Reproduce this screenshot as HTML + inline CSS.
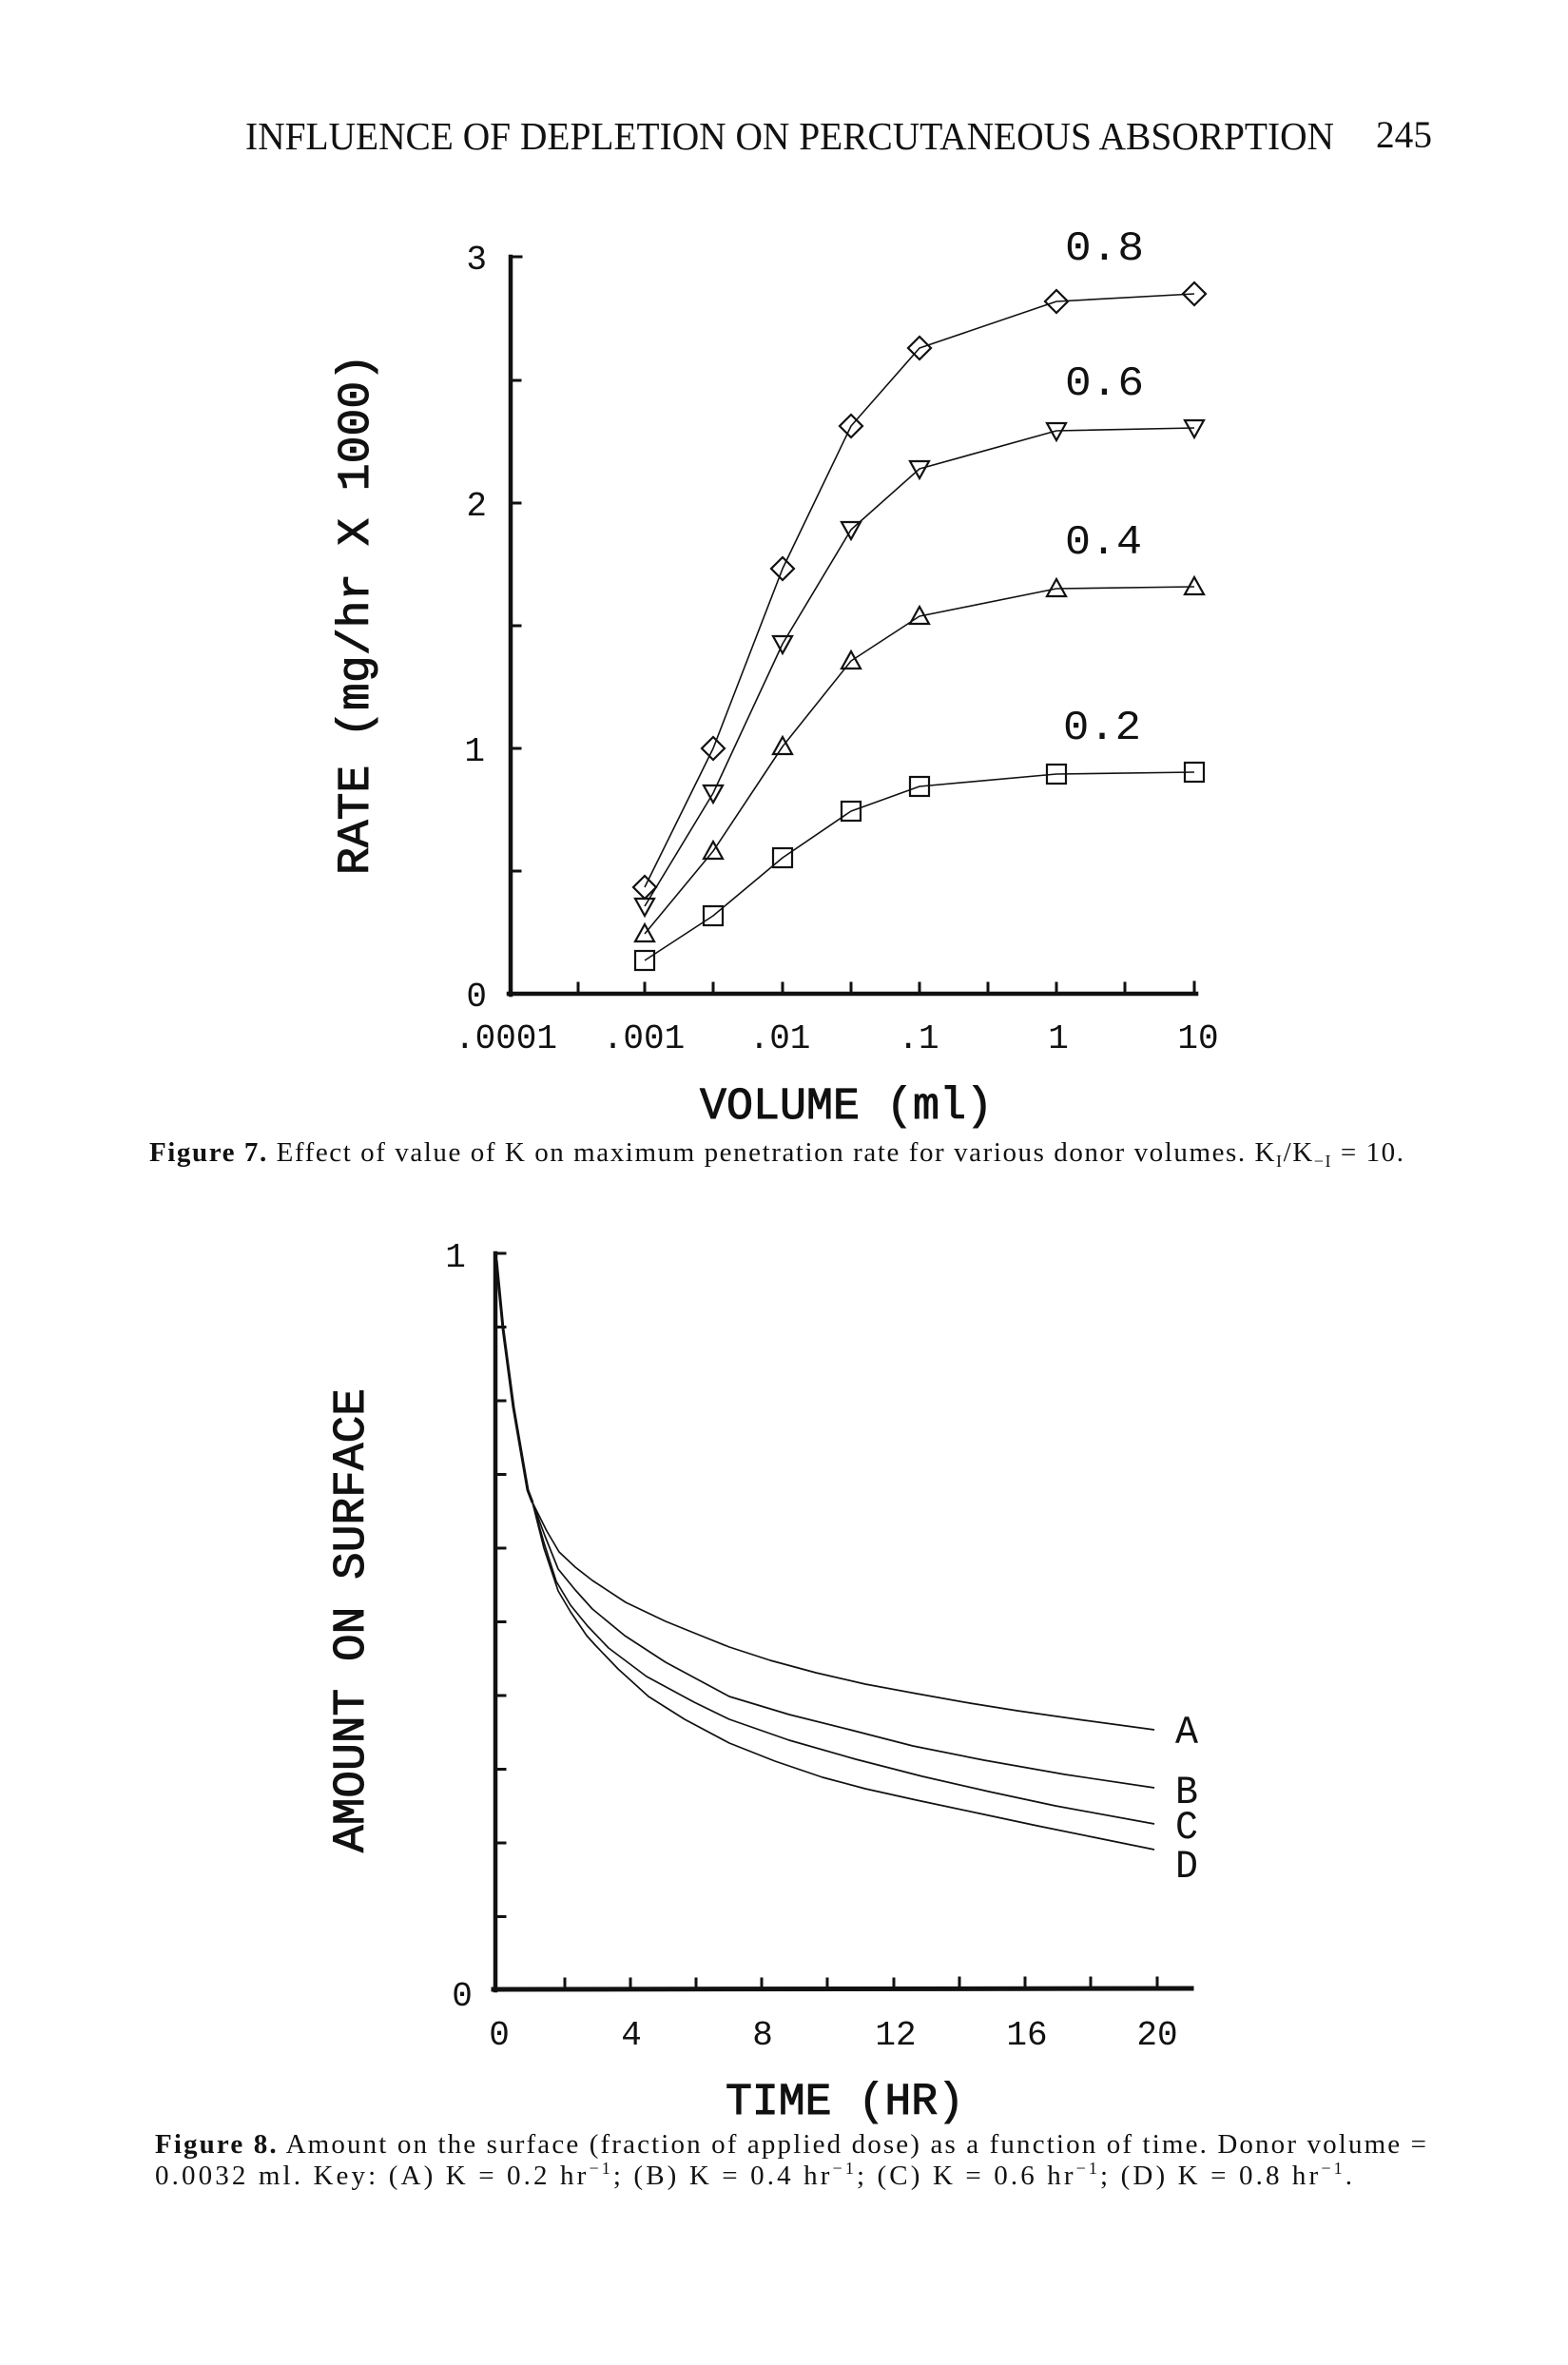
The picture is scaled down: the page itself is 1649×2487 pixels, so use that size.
<!DOCTYPE html>
<html>
<head>
<meta charset="utf-8">
<style>
  html,body{margin:0;padding:0;background:#fff;}
  svg{display:block;}
  .m{font-family:"Liberation Mono","DejaVu Sans Mono",monospace;fill:#111;}
  .s{font-family:"Liberation Serif","DejaVu Serif",serif;fill:#111;}
</style>
</head>
<body>
<svg width="1649" height="2487" viewBox="0 0 1649 2487" xmlns="http://www.w3.org/2000/svg">
  <rect x="0" y="0" width="1649" height="2487" fill="#fff"/>

  <!-- Header -->
  <text class="s" x="258" y="157" font-size="41" textLength="1145" lengthAdjust="spacingAndGlyphs">INFLUENCE OF DEPLETION ON PERCUTANEOUS ABSORPTION</text>
  <text class="s" x="1447" y="155" font-size="40" textLength="59" lengthAdjust="spacingAndGlyphs">245</text>

  <!-- ================= FIGURE 7 ================= -->
  <g stroke="#111" fill="none" stroke-linecap="square">
    <line x1="537" y1="270" x2="537" y2="1046" stroke-width="4.5"/>
    <line x1="535" y1="1045" x2="1258" y2="1045" stroke-width="4.5"/>
    <g stroke-width="3">
      <line x1="537" y1="270" x2="548" y2="270"/>
      <line x1="537" y1="400" x2="547" y2="400"/>
      <line x1="537" y1="529" x2="547" y2="529"/>
      <line x1="537" y1="658" x2="547" y2="658"/>
      <line x1="537" y1="787" x2="547" y2="787"/>
      <line x1="537" y1="916" x2="547" y2="916"/>
      <line x1="608" y1="1045" x2="608" y2="1034"/>
      <line x1="678" y1="1045" x2="678" y2="1034"/>
      <line x1="750" y1="1045" x2="750" y2="1034"/>
      <line x1="823" y1="1045" x2="823" y2="1034"/>
      <line x1="895" y1="1045" x2="895" y2="1034"/>
      <line x1="967" y1="1045" x2="967" y2="1034"/>
      <line x1="1039" y1="1045" x2="1039" y2="1034"/>
      <line x1="1111" y1="1045" x2="1111" y2="1034"/>
      <line x1="1183" y1="1045" x2="1183" y2="1034"/>
      <line x1="1256" y1="1045" x2="1256" y2="1033"/>
    </g>
  </g>

  <!-- y tick labels -->
  <g class="m" font-size="36" text-anchor="end">
    <text x="512" y="283">3</text>
    <text x="512" y="542">2</text>
    <text x="510" y="800">1</text>
    <text x="512" y="1058">0</text>
  </g>
  <!-- x tick labels -->
  <g class="m" font-size="36" text-anchor="middle">
    <text x="532" y="1102">.0001</text>
    <text x="677" y="1102">.001</text>
    <text x="820" y="1102">.01</text>
    <text x="966" y="1102">.1</text>
    <text x="1113" y="1102">1</text>
    <text x="1260" y="1102">10</text>
  </g>

  <!-- series lines -->
  <g stroke="#111" fill="none" stroke-width="1.6" stroke-linejoin="round">
    <polyline points="678,933 750,787 823,598 895,448 967,366 1111,317 1256,309"/>
    <polyline points="678,953 750,834 823,677 895,557 967,493 1111,453 1256,450"/>
    <polyline points="678,982 750,895 823,785 895,695 967,648 1111,619 1256,617"/>
    <polyline points="678,1010 750,963 823,902 895,853 967,827 1111,814 1256,812"/>
  </g>
  <!-- markers -->
  <g stroke="#111" fill="none" stroke-width="2.2" stroke-linejoin="miter">
    <path d="M678 921 L690 933 L678 945 L666 933Z"/>
    <path d="M750 775 L762 787 L750 799 L738 787Z"/>
    <path d="M823 586 L835 598 L823 610 L811 598Z"/>
    <path d="M895 436 L907 448 L895 460 L883 448Z"/>
    <path d="M967 354 L979 366 L967 378 L955 366Z"/>
    <path d="M1111 305 L1123 317 L1111 329 L1099 317Z"/>
    <path d="M1256 297 L1268 309 L1256 321 L1244 309Z"/>

    <path d="M668 945 L688 945 L678 963Z"/>
    <path d="M740 826 L760 826 L750 844Z"/>
    <path d="M813 669 L833 669 L823 687Z"/>
    <path d="M885 549 L905 549 L895 567Z"/>
    <path d="M957 485 L977 485 L967 503Z"/>
    <path d="M1101 445 L1121 445 L1111 463Z"/>
    <path d="M1246 442 L1266 442 L1256 460Z"/>

    <path d="M668 990 L688 990 L678 972Z"/>
    <path d="M740 903 L760 903 L750 885Z"/>
    <path d="M813 793 L833 793 L823 775Z"/>
    <path d="M885 703 L905 703 L895 685Z"/>
    <path d="M957 656 L977 656 L967 638Z"/>
    <path d="M1101 627 L1121 627 L1111 609Z"/>
    <path d="M1246 625 L1266 625 L1256 607Z"/>

    <rect x="668" y="1000" width="20" height="20"/>
    <rect x="740" y="953" width="20" height="20"/>
    <rect x="813" y="892" width="20" height="20"/>
    <rect x="885" y="843" width="20" height="20"/>
    <rect x="957" y="817" width="20" height="20"/>
    <rect x="1101" y="804" width="20" height="20"/>
    <rect x="1246" y="802" width="20" height="20"/>
  </g>

  <!-- series labels -->
  <g class="m" font-size="44">
    <text x="1120" y="273" textLength="83" lengthAdjust="spacingAndGlyphs">0.8</text>
    <text x="1120" y="415" textLength="83" lengthAdjust="spacingAndGlyphs">0.6</text>
    <text x="1120" y="582" textLength="81" lengthAdjust="spacingAndGlyphs">0.4</text>
    <text x="1118" y="777" textLength="82" lengthAdjust="spacingAndGlyphs">0.2</text>
  </g>

  <!-- axis titles -->
  <text class="m" x="736" y="1176" font-size="47" stroke="#111" stroke-width="1" textLength="308" lengthAdjust="spacingAndGlyphs">VOLUME (ml)</text>
  <text class="m" transform="translate(387,920) rotate(-90)" x="0" y="0" font-size="47" stroke="#111" stroke-width="1" textLength="548" lengthAdjust="spacingAndGlyphs">RATE (mg/hr X 1000)</text>

  <!-- caption 7 -->
  <text class="s" x="157" y="1221" font-size="29" textLength="1319" lengthAdjust="spacing"><tspan font-weight="bold">Figure 7.</tspan> Effect of value of K on maximum penetration rate for various donor volumes. K<tspan dy="6" font-size="18">I</tspan><tspan dy="-6">/K</tspan><tspan dy="6" font-size="18">−I</tspan><tspan dy="-6"> = 10.</tspan></text>

  <!-- ================= FIGURE 8 ================= -->
  <g stroke="#111" fill="none" stroke-linecap="square">
    <line x1="521" y1="1318" x2="521" y2="2093" stroke-width="4.5"/>
    <line x1="519" y1="2092" x2="1253" y2="2091" stroke-width="5"/>
    <g stroke-width="3">
      <line x1="521" y1="1318" x2="531" y2="1318"/>
      <line x1="521" y1="1395.5" x2="531" y2="1395.5"/>
      <line x1="521" y1="1473" x2="531" y2="1473"/>
      <line x1="521" y1="1550.5" x2="531" y2="1550.5"/>
      <line x1="521" y1="1628" x2="531" y2="1628"/>
      <line x1="521" y1="1705.5" x2="531" y2="1705.5"/>
      <line x1="521" y1="1783" x2="531" y2="1783"/>
      <line x1="521" y1="1860.5" x2="531" y2="1860.5"/>
      <line x1="521" y1="1938" x2="531" y2="1938"/>
      <line x1="521" y1="2015.5" x2="531" y2="2015.5"/>
      <line x1="594" y1="2092" x2="594" y2="2081"/>
      <line x1="663" y1="2092" x2="663" y2="2081"/>
      <line x1="732" y1="2092" x2="732" y2="2081"/>
      <line x1="801" y1="2092" x2="801" y2="2081"/>
      <line x1="870" y1="2092" x2="870" y2="2081"/>
      <line x1="940" y1="2092" x2="940" y2="2081"/>
      <line x1="1009" y1="2091" x2="1009" y2="2080"/>
      <line x1="1078" y1="2091" x2="1078" y2="2080"/>
      <line x1="1147" y1="2091" x2="1147" y2="2080"/>
      <line x1="1217" y1="2091" x2="1217" y2="2080"/>
    </g>
  </g>

  <!-- curves -->
  <g stroke="#111" fill="none" stroke-width="1.7" stroke-linejoin="round">
    <polyline stroke-width="3" points="522,1325 529,1397 540,1480 555,1567 560,1580"/>
    <polyline points="560,1580 575,1610 588,1632 605,1648 623,1662 658,1685 700,1705 737,1720 767,1732 810,1746 858,1759 910,1771 964,1781 1020,1791 1070,1799 1140,1809 1214,1819"/>
    <polyline points="560,1580 573,1615 587,1650 605,1672 623,1692 657,1720 700,1748 767,1784 830,1803 894,1819 960,1836 1035,1851 1120,1866 1214,1880"/>
    <polyline points="560,1580 572,1622 585,1663 600,1688 618,1710 640,1733 680,1763 730,1790 767,1808 830,1830 900,1850 970,1868 1040,1884 1110,1899 1214,1918"/>
    <polyline points="560,1580 572,1628 587,1673 600,1695 617,1720 626,1730 650,1755 682,1784 720,1808 767,1833 815,1852 865,1869 910,1881 964,1893 1030,1907 1091,1920 1150,1932 1214,1945"/>
  </g>

  <!-- curve labels -->
  <g class="m" font-size="42">
    <text x="1236" y="1833" textLength="24" lengthAdjust="spacingAndGlyphs">A</text>
    <text x="1236" y="1896" textLength="24" lengthAdjust="spacingAndGlyphs">B</text>
    <text x="1236" y="1933" textLength="24" lengthAdjust="spacingAndGlyphs">C</text>
    <text x="1236" y="1974" textLength="24" lengthAdjust="spacingAndGlyphs">D</text>
  </g>

  <!-- tick labels -->
  <g class="m" font-size="36" text-anchor="middle">
    <text x="479" y="1332">1</text>
    <text x="486" y="2109">0</text>
    <text x="525" y="2150">0</text>
    <text x="664" y="2150">4</text>
    <text x="802" y="2150">8</text>
    <text x="942" y="2150">12</text>
    <text x="1080" y="2150">16</text>
    <text x="1217" y="2150">20</text>
  </g>

  <!-- axis titles -->
  <text class="m" x="763" y="2223" font-size="47" stroke="#111" stroke-width="1" textLength="251" lengthAdjust="spacingAndGlyphs">TIME (HR)</text>
  <text class="m" transform="translate(382,1948) rotate(-90)" x="0" y="0" font-size="47" stroke="#111" stroke-width="1" textLength="488" lengthAdjust="spacingAndGlyphs">AMOUNT ON SURFACE</text>

  <!-- caption 8 -->
  <text class="s" x="163" y="2264" font-size="29" textLength="1337" lengthAdjust="spacing"><tspan font-weight="bold">Figure 8.</tspan> Amount on the surface (fraction of applied dose) as a function of time. Donor volume =</text>
  <text class="s" x="163" y="2297" font-size="29" textLength="1259" lengthAdjust="spacing">0.0032 ml. Key: (A) K = 0.2 hr<tspan dy="-11" font-size="18">−1</tspan><tspan dy="11">; (B) K = 0.4 hr</tspan><tspan dy="-11" font-size="18">−1</tspan><tspan dy="11">; (C) K = 0.6 hr</tspan><tspan dy="-11" font-size="18">−1</tspan><tspan dy="11">; (D) K = 0.8 hr</tspan><tspan dy="-11" font-size="18">−1</tspan><tspan dy="11">.</tspan></text>
</svg>
</body>
</html>
